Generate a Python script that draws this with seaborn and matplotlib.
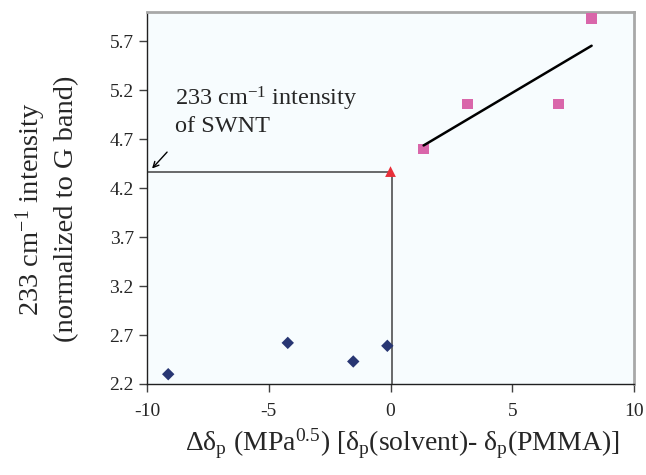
import numpy as np
import pandas as pd
import matplotlib
matplotlib.use("Agg")
import matplotlib.pyplot as plt
import seaborn as sns

# Data
neg_x = [-9.13, -4.22, -1.53, -0.13]
neg_y = [2.30, 2.62, 2.43, 2.59]
swnt_x = [0.0]
swnt_y = [4.37]
pos_x = [1.36, 3.17, 6.89, 8.26]
pos_y = [4.60, 5.06, 5.06, 5.93]
x_ticks = [-10, -5, 0, 5, 10]
y_ticks = [2.2, 2.7, 3.2, 3.7, 4.2, 4.7, 5.2, 5.7]

sns.set_style("ticks")
plt.rcParams["font.family"] = ["Liberation Serif", "DejaVu Serif"]
plt.rcParams["mathtext.fontset"] = "custom"
plt.rcParams["mathtext.rm"] = "Liberation Serif"
plt.rcParams["mathtext.it"] = "Liberation Serif"
plt.rcParams["axes.unicode_minus"] = False

fig = plt.figure(figsize=(6.46, 4.75), dpi=100)
ax = fig.add_axes([0.2276, 0.1916, 0.7538, 0.7831])
ax.set_facecolor("#F7FCFE")

# guide lines from the SWNT point
ax.plot([-10, swnt_x[0]], [swnt_y[0], swnt_y[0]], color="#505050", lw=1.2, zorder=2)
ax.plot([swnt_x[0] + 0.07, swnt_x[0] + 0.07], [2.2, swnt_y[0]], color="#505050", lw=1.2, zorder=2)

neg = pd.DataFrame({"x": neg_x, "y": neg_y})
pos = pd.DataFrame({"x": pos_x, "y": pos_y})
sns.scatterplot(data=neg, x="x", y="y", marker="D", s=40, color="#283673",
                edgecolor="none", ax=ax, zorder=3)
sns.scatterplot(x=swnt_x, y=swnt_y, marker="^", s=60, color="#E8303A",
                edgecolor="none", ax=ax, zorder=3)
sns.scatterplot(data=pos, x="x", y="y", marker="s", s=60, color="#D966AA",
                edgecolor="none", ax=ax, zorder=3)

# linear trend through the positive side
k, b = np.polyfit(pos_x, pos_y, 1)
fx = np.array([min(pos_x), max(pos_x)])
ax.plot(fx, k * fx + b, color="black", lw=1.8, zorder=4)

ax.annotate("", xy=(-9.87, 4.38), xytext=(-9.1, 4.59),
            arrowprops=dict(arrowstyle="->", color="black", lw=1))
ax.text(-8.85, 4.99, "233 cm$^{-1}$ intensity\nof SWNT", fontsize=17.5,
        ha="left", va="center", linespacing=1.15)

ax.set_xlim(-10, 10)
ax.set_ylim(2.2, 6.0)
ax.set_xticks(x_ticks)
ax.set_yticks(y_ticks)
ax.set_yticklabels([f"{v:.1f}" for v in y_ticks])
ax.tick_params(axis="both", labelsize=14, length=6, width=1, color="#404040")
ax.tick_params(axis="x", pad=8)

for side in ["left", "bottom"]:
    ax.spines[side].set_color("#202020")
    ax.spines[side].set_linewidth(1)
for side in ["top", "right"]:
    ax.spines[side].set_visible(True)
    ax.spines[side].set_color("#A8A8A8")
    ax.spines[side].set_linewidth(2)

ax.set_xlabel(r"$\Delta\delta_{\rm p}$ (MPa$^{0.5}$) [$\delta_{\rm p}$(solvent)- $\delta_{\rm p}$(PMMA)]",
              fontsize=20, labelpad=9)
ax.xaxis.set_label_coords(0.524, -0.115)
ax.set_ylabel("233 cm$^{-1}$ intensity\n(normalized to G band)", fontsize=20.5,
              linespacing=1.3)
ax.yaxis.set_label_coords(-0.14, 0.47)

fig.savefig("out.png", dpi=100)
